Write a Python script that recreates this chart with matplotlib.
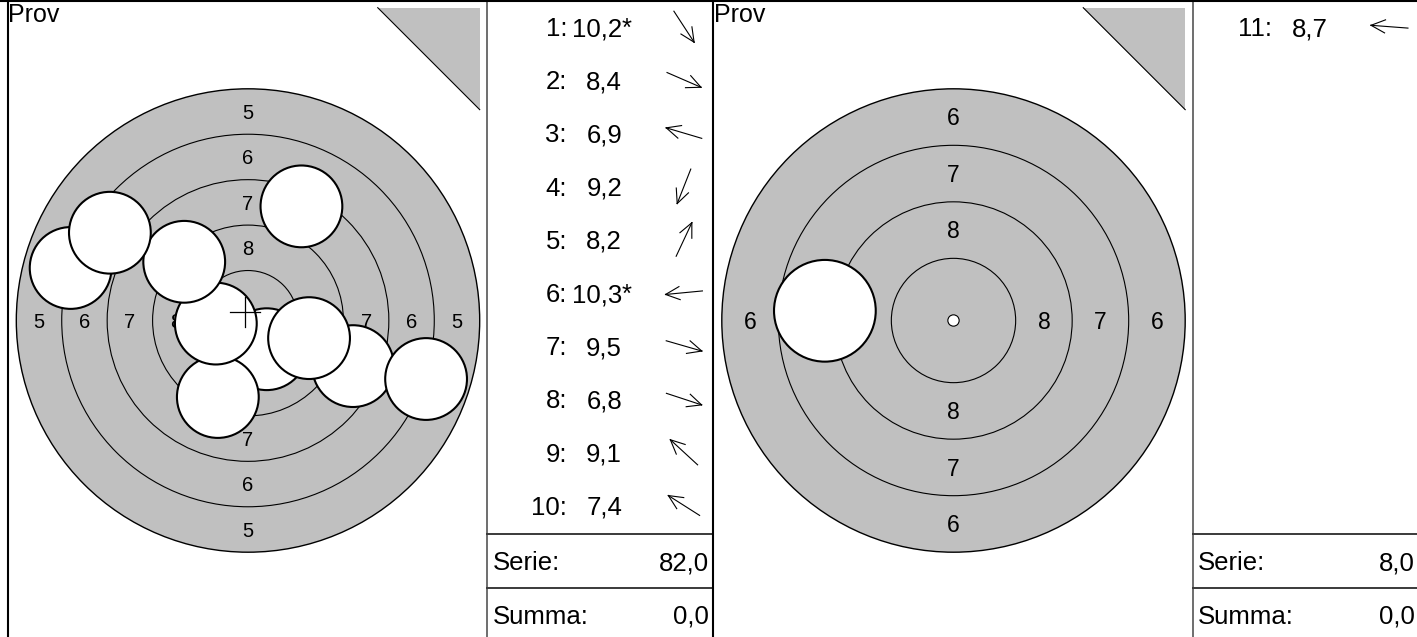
import numpy as np
import matplotlib.pyplot as plt
from matplotlib.patches import Circle, Polygon

plt.rcParams['font.family'] = ['Liberation Sans', 'DejaVu Sans']

W, H = 1417, 637

# 10 m air rifle target, radii in mm
ring_values = [10, 9, 8, 7, 6, 5, 4, 3, 2, 1]
ring_radii = [0.25, 2.75, 5.25, 7.75, 10.25, 12.75, 15.25, 17.75, 20.25, 22.75]
shot_radius = 2.25

# series "Prov" 1 : shot centres in mm (x right, y up)
s1_x = [1.03, 5.78, -9.76, -1.66, 2.94, -1.77, 3.36, 9.80, -3.51, -7.60]
s1_y = [-1.58, -2.51, 2.89, -4.21, 6.28, -0.17, -0.97, -3.22, 3.23, 4.83]
s1_scores = [10.2, 8.4, 6.9, 9.2, 8.2, 10.3, 9.5, 6.8, 9.1, 7.4]
s1_inner = [True, False, False, False, False, True, False, False, False, False]
s1_summa = 0.0

# series "Prov" 2
s2_x = [-5.69]
s2_y = [0.43]
s2_scores = [8.7]
s2_inner = [False]
s2_summa = 0.0

GRAY = '#c0c0c0'


def fmt(v):
    return f"{v:.1f}".replace('.', ',')


fig = plt.figure(figsize=(W / 100, H / 100), dpi=100)
page = fig.add_axes([0, 0, 1, 1], zorder=5)
page.set_xlim(0, W)
page.set_ylim(H, 0)
page.axis('off')
page.patch.set_alpha(0)


def draw_panel(x0, xs, ys, scores, inner, first, summa, label_size):
    xs = np.array(xs)
    ys = np.array(ys)
    tx0 = x0 + 479          # table left edge
    cx, cy = x0 + 240, 320.5

    # outer ring = first ring that holds every shot
    need = np.hypot(xs, ys).max() + shot_radius
    k_out = next(i for i, r in enumerate(ring_radii) if r >= need)
    R = ring_radii[k_out]
    s = 231.7 / R          # px per mm

    ax = fig.add_axes([x0 / W, 0, 479 / W, 1], zorder=1)
    ax.set_xlim((x0 - cx) / s, (x0 + 479 - cx) / s)
    ax.set_ylim((cy - H) / s, cy / s)
    ax.axis('off')

    ax.add_patch(Circle((0, 0), R, fc=GRAY, ec='black', lw=1.0, zorder=1))
    for r in ring_radii[1:k_out]:
        ax.add_patch(Circle((0, 0), r, fill=False, ec='black', lw=0.8, zorder=1))
    ax.add_patch(Circle((0, 0), ring_radii[0], fc='white', ec='black', lw=0.8, zorder=1))

    # ring numbers
    off = 0.36 * label_size / 0.72 / s
    for i in range(2, k_out + 1):
        m = (ring_radii[i - 1] + ring_radii[i]) / 2
        for px, py in [(0, m), (0, -m), (-m, 0), (m, 0)]:
            ax.text(px, py - off, str(ring_values[i]), ha='center', va='baseline',
                    fontsize=label_size, zorder=2)

    # corner triangle
    tri = [(0.56 * R, 1.35 * R), (R, 1.35 * R), (R, 0.91 * R)]
    ax.add_patch(Polygon(tri, closed=True, fc=GRAY, ec='none', zorder=1))
    ax.plot([tri[0][0], tri[2][0]], [tri[0][1], tri[2][1]], color='black', lw=0.8, zorder=2)

    for i in range(len(xs)):
        ax.add_patch(Circle((xs[i], ys[i]), shot_radius, fc='white', ec='black',
                            lw=1.5, zorder=3 + i))

    # mean point of impact
    if len(xs) > 1:
        mx, my = xs.mean(), ys.mean()
        arm = 15 / s
        ax.plot([mx - arm, mx + arm], [my, my], color='black', lw=0.9, zorder=50)
        ax.plot([mx, mx], [my - arm, my + arm], color='black', lw=0.9, zorder=50)

    page.text(x0 + 0.5, 2.5, 'Prov', ha='left', va='top', fontsize=18)

    # shot list
    for i in range(len(xs)):
        base = 36 + i * 53.2
        page.text(tx0 + 80, base, f"{first + i}:", ha='right', va='baseline', fontsize=18.5)
        page.text(tx0 + 135, base, fmt(scores[i]), ha='right', va='baseline', fontsize=18.5)
        if inner[i]:
            page.text(tx0 + 135, base, '*', ha='left', va='baseline', fontsize=18.5)
        # direction arrow
        d = np.hypot(xs[i], ys[i])
        ux, uy = xs[i] / d, -ys[i] / d
        ac_x, ac_y = tx0 + 197, base - 9.3
        L = 37
        tip = (ac_x + ux * L / 2, ac_y + uy * L / 2)
        tail = (ac_x - ux * L / 2, ac_y - uy * L / 2)
        page.plot([tail[0], tip[0]], [tail[1], tip[1]], color='black', lw=0.8)
        back = np.arctan2(-uy, -ux)
        for a in (np.radians(25), -np.radians(25)):
            page.plot([tip[0], tip[0] + 15.5 * np.cos(back + a)],
                      [tip[1], tip[1] + 15.5 * np.sin(back + a)], color='black', lw=0.8)

    serie = sum(int(v) for v in scores)
    page.text(tx0 + 5.5, 570.5, 'Serie:', ha='left', va='baseline', fontsize=18.5)
    page.text(tx0 + 222, 570.5, fmt(serie), ha='right', va='baseline', fontsize=18.5)
    page.text(tx0 + 5.5, 623.5, 'Summa:', ha='left', va='baseline', fontsize=18.5)
    page.text(tx0 + 222, 623.5, fmt(summa), ha='right', va='baseline', fontsize=18.5)

    # frame lines
    page.plot([tx0, tx0], [0, H], color='#555555', lw=1.2)
    for y in (534, 588):
        page.plot([tx0, tx0 + 226], [y, y], color='#3a3a3a', lw=1.4)


draw_panel(8, s1_x, s1_y, s1_scores, s1_inner, 1, s1_summa, 14.5)
draw_panel(713.5, s2_x, s2_y, s2_scores, s2_inner, 11, s2_summa, 16.5)

page.plot([0, W], [1, 1], color='black', lw=1.5)
page.plot([8, 8], [0, H], color='black', lw=1.5)
page.plot([713, 713], [0, H], color='black', lw=1.5)

fig.savefig('out.png', dpi=100)
